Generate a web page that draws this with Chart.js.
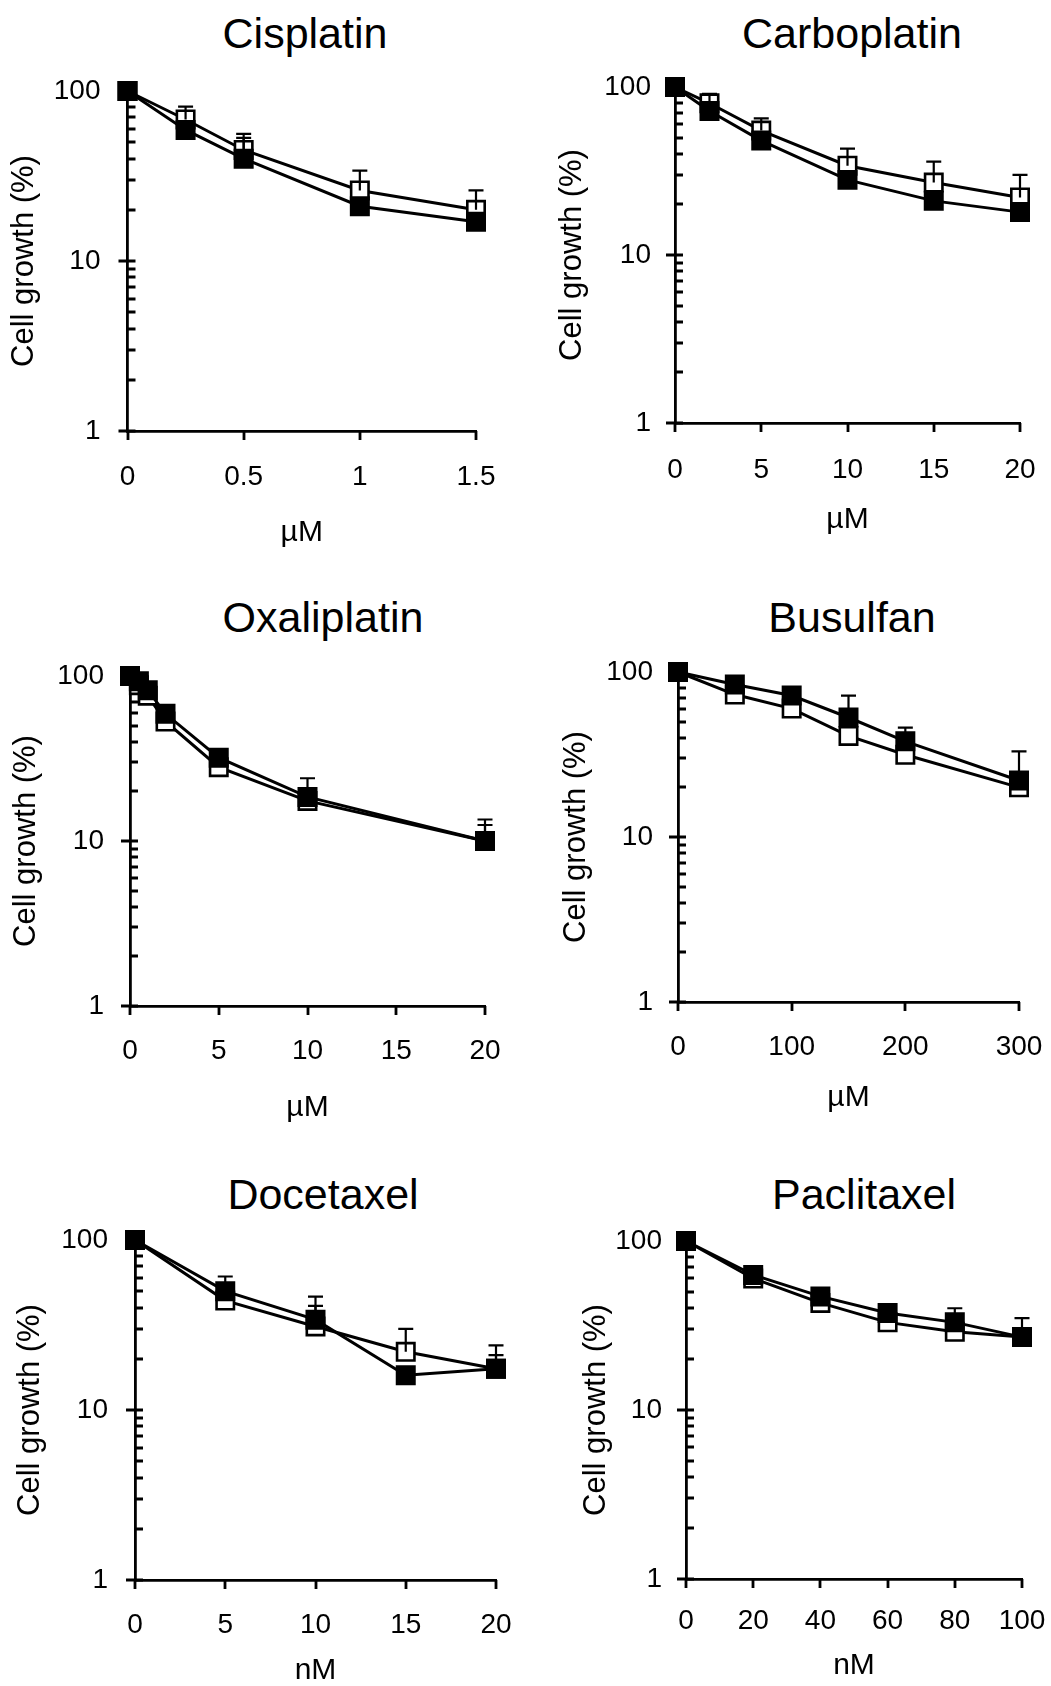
<!DOCTYPE html>
<html>
<head>
<meta charset="utf-8">
<title>Cell growth curves</title>
<script src="https://cdn.jsdelivr.net/npm/chart.js@4.4.1/dist/chart.umd.min.js"></script>
<style>
  body { margin: 0; background: #fff; }
  #fig { position: relative; width: 1051px; height: 1686px; overflow: hidden;
         font-family: "Liberation Sans", Arial, Helvetica, sans-serif; color: #000; }
  #fig canvas { position: absolute; }
  .ttl { position: absolute; font-size: 43px; line-height: 1; white-space: nowrap;
         transform: translate(-50%, -50%); }
</style>
</head>
<body>
<div id="fig"></div>
<script>
/* ==============================================
   Six dose-response panels, log y axis
   ============================================== */

// --------- Data --------------------------------
// open = hollow squares, filled = solid squares, *Top = upper end of error bar
const drugs = ['Cisplatin', 'Carboplatin', 'Oxaliplatin', 'Busulfan', 'Docetaxel', 'Paclitaxel'];
const units = ['µM', 'µM', 'µM', 'µM', 'nM', 'nM'];
const yTitle = 'Cell growth (%)';

const yTickValues = [1, 2, 3, 4, 5, 6, 7, 8, 9, 10, 20, 30, 40, 50, 60, 70, 80, 90, 100];
const yTickLabels = [1, 10, 100];

const cisTicks     = [0, 0.5, 1, 1.5];
const cisDose      = [0, 0.25, 0.5, 1, 1.5];
const cisOpen      = [100, 68, 45, 26, 20];
const cisFilled    = [100, 59, 40, 21, 17];
const cisOpenTop   = [null, 81, 56, 34, 26];
const cisFilledTop = [null, null, 53, null, null];

const carTicks     = [0, 5, 10, 15, 20];
const carDose      = [0, 2, 5, 10, 15, 20];
const carOpen      = [100, 80, 55, 34, 27, 22];
const carFilled    = [100, 72, 48, 28, 21, 18];
const carOpenTop   = [null, 91, 65, 43, 36, 30];
const carFilledTop = [null, null, null, null, null, null];

const oxaTicks     = [0, 5, 10, 15, 20];
const oxaDose      = [0, 0.5, 1, 2, 5, 10, 20];
const oxaOpen      = [100, 88, 76, 53, 28, 17.5, 10];
const oxaFilled    = [100, 93, 82, 59, 32, 18.5, 10];
const oxaOpenTop   = [null, null, null, null, null, null, 12.5];
const oxaFilledTop = [null, null, null, null, null, 24, 13.5];

const busTicks     = [0, 100, 200, 300];
const busDose      = [0, 50, 100, 150, 200, 300];
const busOpen      = [100, 73, 60, 41, 31.5, 20];
const busFilled    = [100, 84, 72, 53, 38, 22];
const busOpenTop   = [null, null, null, null, null, null];
const busFilledTop = [null, null, null, 72, 46, 33];

const docTicks     = [0, 5, 10, 15, 20];
const docDose      = [0, 5, 10, 15, 20];
const docOpen      = [100, 44, 31, 22, 17.5];
const docFilled    = [100, 50, 34, 16, 17.5];
const docOpenTop   = [null, null, 41, 30, 24];
const docFilledTop = [null, 61, 46.5, null, 21];

const pacTicks     = [0, 20, 40, 60, 80, 100];
const pacDose      = [0, 20, 40, 60, 80, 100];
const pacOpen      = [100, 60, 43, 33, 29, 27];
const pacFilled    = [100, 63, 47, 37.5, 33, 27];
const pacOpenTop   = [null, null, null, null, null, null];
const pacFilledTop = [null, null, null, null, 40, 35];

// --------- Layout (page pixels) ----------
// L/R/T/B = plot area, tx/ty = title centre, yt = y title centre x,
// xt = x title centre y, gap = y label gap, xl = x label centre y
const layout = [
  { L: 127.5, R: 476.5, T: 91,   B: 431,  tx: 305, ty: 33,   yt: 24,  xt: 533,  gap: 27, xl: 477 },
  { L: 675,   R: 1020,  T: 86.5, B: 423,  tx: 852, ty: 33,   yt: 572, xt: 520,  gap: 24, xl: 470 },
  { L: 130,   R: 485,   T: 676,  B: 1006, tx: 323, ty: 617,  yt: 26,  xt: 1108, gap: 26, xl: 1051 },
  { L: 678,   R: 1019,  T: 672,  B: 1002, tx: 852, ty: 617,  yt: 576, xt: 1098, gap: 25, xl: 1047 },
  { L: 135,   R: 496.5, T: 1240, B: 1580, tx: 323, ty: 1194, yt: 30,  xt: 1671, gap: 27, xl: 1625 },
  { L: 686,   R: 1022,  T: 1241, B: 1579, tx: 864, ty: 1194, yt: 596, xt: 1666, gap: 24, xl: 1621 }
];

const series = [
  [cisTicks, cisDose, cisOpen, cisFilled, cisOpenTop, cisFilledTop],
  [carTicks, carDose, carOpen, carFilled, carOpenTop, carFilledTop],
  [oxaTicks, oxaDose, oxaOpen, oxaFilled, oxaOpenTop, oxaFilledTop],
  [busTicks, busDose, busOpen, busFilled, busOpenTop, busFilledTop],
  [docTicks, docDose, docOpen, docFilled, docOpenTop, docFilledTop],
  [pacTicks, pacDose, pacOpen, pacFilled, pacOpenTop, pacFilledTop]
];

// --------- Chart defaults ----------
Chart.defaults.font.family = '"Liberation Sans", Arial, Helvetica, sans-serif';
Chart.defaults.color = '#000';

const TICK_FONT = 28;
const XTITLE_FONT = 30;
const YTITLE_FONT = 31;
const AXIS_W = 2.8;

// --------- Plugins ----------
// axis tick marks: major y ticks cross the axis, minor ones point inwards
const axisTicks = {
  id: 'axisTicks',
  beforeDatasetsDraw(chart) {
    const { ctx, scales: { x, y }, chartArea } = chart;
    ctx.save();
    ctx.strokeStyle = '#000';
    ctx.lineWidth = AXIS_W;
    ctx.beginPath();
    y.ticks.forEach(t => {
      const py = Math.round(y.getPixelForValue(t.value));
      const major = yTickLabels.includes(t.value);
      ctx.moveTo(chartArea.left - (major ? 9 : 0), py);
      ctx.lineTo(chartArea.left + 8, py);
    });
    x.ticks.forEach(t => {
      const px = Math.round(x.getPixelForValue(t.value));
      ctx.moveTo(px, chartArea.bottom);
      ctx.lineTo(px, chartArea.bottom + 9);
    });
    ctx.stroke();
    ctx.restore();
  }
};

// one-sided (upper) error bars
const errorBars = {
  id: 'errorBars',
  afterDatasetsDraw(chart) {
    const { ctx, scales: { x, y } } = chart;
    ctx.save();
    ctx.strokeStyle = '#000';
    ctx.lineWidth = 2.2;
    chart.data.datasets.forEach(ds => {
      (ds.errTop || []).forEach((top, i) => {
        if (top == null) return;
        const px = x.getPixelForValue(ds.data[i].x);
        const p0 = y.getPixelForValue(ds.data[i].y);
        const p1 = y.getPixelForValue(top);
        ctx.beginPath();
        ctx.moveTo(px, p0);
        ctx.lineTo(px, p1);
        ctx.moveTo(px - 7.5, p1);
        ctx.lineTo(px + 7.5, p1);
        ctx.stroke();
      });
    });
    ctx.restore();
  }
};

// --------- Helpers ----------
function toPoints(dose, vals) {
  return dose.map((d, i) => ({ x: d, y: vals[i] }));
}

function lineSet(data, top, fill, order) {
  return {
    data: data,
    errTop: top,
    order: order,
    clip: false,
    borderColor: '#000',
    borderWidth: 3,
    tension: 0,
    pointStyle: 'rect',
    pointRadius: 12.3,
    pointBorderWidth: 2.6,
    pointBorderColor: '#000',
    pointBackgroundColor: fill
  };
}

// Build one panel
function buildPanel(i) {
  const fig = document.getElementById('fig');
  const lay = layout[i];
  const [ticks, dose, open, filled, openTop, filledTop] = series[i];

  const ox = lay.L < 525 ? 0 : 525;
  const padTop = 50, padRight = 62;
  const oy = lay.T - padTop;
  const xh = lay.xt + 22 - lay.B;           // x axis box height
  const w = lay.R + padRight - ox;
  const h = lay.B + xh - oy;

  const title = document.createElement('div');
  title.className = 'ttl';
  title.textContent = drugs[i];
  title.style.left = lay.tx + 'px';
  title.style.top = lay.ty + 'px';
  fig.appendChild(title);

  const cv = document.createElement('canvas');
  cv.width = w;
  cv.height = h;
  cv.style.left = ox + 'px';
  cv.style.top = oy + 'px';
  fig.appendChild(cv);

  new Chart(cv, {
    type: 'line',
    data: {
      datasets: [
        lineSet(toPoints(dose, filled), filledTop, '#000', 0),
        lineSet(toPoints(dose, open), openTop, '#fff', 1)
      ]
    },
    options: {
      responsive: false,
      animation: false,
      events: [],
      layout: { padding: { top: padTop, right: padRight, left: 0, bottom: 0 } },
      plugins: { legend: { display: false }, tooltip: { enabled: false } },
      scales: {
        x: {
          type: 'linear',
          min: ticks[0],
          max: ticks[ticks.length - 1],
          afterFit: s => { s.height = xh; },
          afterBuildTicks: s => { s.ticks = ticks.map(v => ({ value: v })); },
          grid: { display: false, drawTicks: false },
          border: { display: true, color: '#000', width: AXIS_W },
          ticks: {
            padding: lay.xl - lay.B - TICK_FONT * 0.6,
            font: { size: TICK_FONT },
            maxRotation: 0,
            autoSkip: false,
            callback: v => String(v)
          },
          title: {
            display: true,
            text: units[i],
            font: { size: XTITLE_FONT },
            padding: { top: 0, bottom: 22 - XTITLE_FONT * 0.6 }
          }
        },
        y: {
          type: 'logarithmic',
          min: 1,
          max: 100,
          afterFit: s => { s.width = lay.L - ox; },
          afterBuildTicks: s => { s.ticks = yTickValues.map(v => ({ value: v })); },
          grid: { display: false, drawTicks: false },
          border: { display: true, color: '#000', width: AXIS_W },
          ticks: {
            padding: lay.gap,
            font: { size: TICK_FONT },
            autoSkip: false,
            callback: v => (yTickLabels.includes(v) ? String(v) : '')
          },
          title: {
            display: true,
            text: yTitle,
            font: { size: YTITLE_FONT },
            padding: { top: lay.yt - ox - YTITLE_FONT * 0.6, bottom: 0 }
          }
        }
      }
    },
    plugins: [axisTicks, errorBars]
  });
}

// --------- Init ----------
drugs.forEach((_, i) => buildPanel(i));
</script>
</body>
</html>
